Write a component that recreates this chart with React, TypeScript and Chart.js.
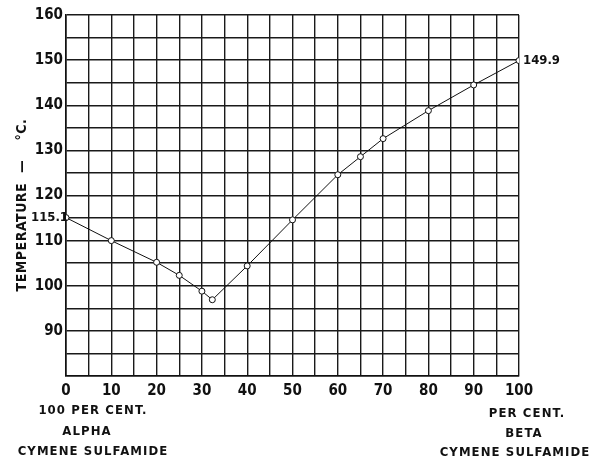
import React, { useEffect, useRef } from "react";
import { Chart, registerables } from "chart.js";

Chart.register(...registerables);

const betaPercent = [0, 10, 20, 25, 30, 32.3, 40, 50, 60, 65, 70, 80, 90, 100];
const temperature = [115.1, 110, 105.2, 102.3, 98.8, 96.9, 104.4, 114.6, 124.6, 128.6, 132.6, 138.8, 144.5, 149.9];
const xTickLabels = [0, 10, 20, 30, 40, 50, 60, 70, 80, 90, 100];
const yTickLabels = [90, 100, 110, 120, 130, 140, 150, 160];
const yTitle = "TEMPERATURE  —    °C.";
const leftLabel = ["100 PER CENT.", "ALPHA", "CYMENE SULFAMIDE"];
const rightLabel = ["PER CENT.", "BETA", "CYMENE SULFAMIDE"];
const startLabel = "115.1";
const endLabel = "149.9";

const FONT = "'DejaVu Sans Condensed', 'DejaVu Sans', sans-serif";

const annotations = {
  id: "annotations",
  afterDraw(chart: any) {
    const ctx = chart.ctx;
    const xs = chart.scales.x;
    const ys = chart.scales.y;
    ctx.save();
    ctx.fillStyle = "#111";
    // y title
    ctx.font = `bold 14px ${FONT}`;
    ctx.letterSpacing = "0.5px";
    ctx.translate(22, 205);
    ctx.rotate(-Math.PI / 2);
    ctx.textAlign = "center";
    ctx.textBaseline = "middle";
    ctx.fillText(yTitle, 0, 0);
    ctx.setTransform(1, 0, 0, 1, 0, 0);
    // value labels
    ctx.letterSpacing = "0px";
    ctx.font = `bold 13px ${FONT}`;
    ctx.textAlign = "right";
    ctx.fillText(startLabel, xs.getPixelForValue(0) + 2, ys.getPixelForValue(temperature[0]));
    ctx.textAlign = "left";
    ctx.fillText(endLabel, xs.getPixelForValue(100) + 4, ys.getPixelForValue(temperature[temperature.length - 1]));
    // bottom labels
    ctx.font = `bold 13px ${FONT}`;
    ctx.letterSpacing = "1.1px";
    ctx.textAlign = "center";
    const leftX = [93, 87, 93];
    const leftY = [411, 432, 452];
    const rightX = [527, 524, 515];
    const rightY = [414, 434, 453];
    leftLabel.forEach((t, i) => ctx.fillText(t, leftX[i], leftY[i]));
    rightLabel.forEach((t, i) => ctx.fillText(t, rightX[i], rightY[i]));
    ctx.restore();
  },
};

export default function App() {
  const ref = useRef<HTMLCanvasElement>(null);
  useEffect(() => {
    const chart = new Chart(ref.current!, {
      type: "scatter",
      data: {
        datasets: [
          {
            data: betaPercent.map((x, i) => ({ x, y: temperature[i] })),
            showLine: true,
            borderColor: "#111",
            borderWidth: 1,
            pointRadius: 3,
            pointBackgroundColor: "#fff",
            pointBorderColor: "#111",
            pointBorderWidth: 1,
          },
        ],
      },
      plugins: [annotations],
      options: {
        animation: false,
        responsive: false,
        devicePixelRatio: 1,
        layout: { padding: { left: 0, top: 15, right: 80, bottom: 0 } },
        plugins: { legend: { display: false }, tooltip: { enabled: false } },
        scales: {
          x: {
            type: "linear",
            min: 0,
            max: 100,
            afterFit: (s: any) => { s.height = 84; },
            afterBuildTicks: (s: any) => {
              const t = [];
              for (let v = 0; v <= 100; v += 5) t.push({ value: v });
              s.ticks = t;
            },
            grid: { color: "#1a1a1a", lineWidth: 1.4, drawTicks: false },
            border: { color: "#111", width: 1.6 },
            ticks: {
              padding: 6,
              maxRotation: 0,
              autoSkip: false,
              color: "#111",
              font: { family: FONT, size: 15, weight: "bold" },
              callback: (v: any) => (xTickLabels.includes(Number(v)) ? String(v) : ""),
            },
          },
          y: {
            type: "linear",
            min: 80,
            max: 160,
            afterFit: (s: any) => { s.width = 66; },
            afterBuildTicks: (s: any) => {
              const t = [];
              for (let v = 80; v <= 160; v += 5) t.push({ value: v });
              s.ticks = t;
            },
            grid: { color: "#1a1a1a", lineWidth: 1.4, drawTicks: false },
            border: { color: "#111", width: 1.6 },
            ticks: {
              padding: 3,
              autoSkip: false,
              color: "#111",
              font: { family: FONT, size: 15, weight: "bold" },
              callback: (v: any) => (yTickLabels.includes(Number(v)) ? String(v) : ""),
            },
          },
        },
      },
    } as any);
    return () => chart.destroy();
  }, []);
  return (
    <div style={{ position: "absolute", left: 0, top: 0, width: 599, height: 460, background: "#fff" }}>
      <canvas ref={ref} width={599} height={460} style={{ width: 599, height: 460 }} />
    </div>
  );
}
